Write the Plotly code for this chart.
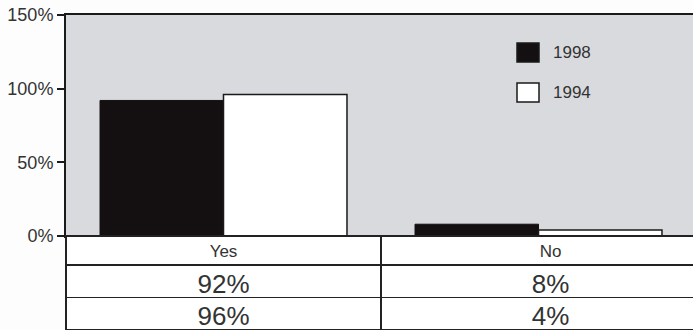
import plotly.graph_objects as go

categories = ["Yes", "No"]
series_names = ["1998", "1994"]
values_1998 = [92, 8]
values_1994 = [96, 4]
y_ticks = [0, 50, 100, 150]
y_tick_labels = ["0%", "50%", "100%", "150%"]

FONT = "Liberation Sans, Arial, sans-serif"
TXT = "#333333"
W, H = 720, 330          # wider than the window so the right frame is cut off, as in the scan
ML, MT = 66, 15
CAT_PX = 315
plot_bottom_px = 236
pw, ph = W - ML, H - MT
y_dom0 = (H - plot_bottom_px) / ph

fig = go.Figure()
fig.add_trace(go.Bar(x=categories, y=values_1998, name=series_names[0],
                     marker=dict(color="#141012", line=dict(color="#141012", width=1)),
                     showlegend=False))
fig.add_trace(go.Bar(x=categories, y=values_1994, name=series_names[1],
                     marker=dict(color="white", line=dict(color="#1a1a1a", width=1.5)),
                     showlegend=False))

# table under the plot
fig.add_trace(go.Table(
    domain=dict(x=[0, 1], y=[0, y_dom0]),
    columnwidth=[CAT_PX, pw - CAT_PX],
    header=dict(values=categories, height=29, align="center",
                fill=dict(color="white"), line=dict(color="#222222", width=1.5),
                font=dict(family=FONT, size=17, color=TXT)),
    cells=dict(values=[[f"{values_1998[i]}%", f"{values_1994[i]}%"] for i in range(len(categories))],
               height=32.5, align="center",
               fill=dict(color="white"), line=dict(color="#222222", width=1.5),
               font=dict(family=FONT, size=26, color=TXT)),
))

# legend drawn as swatches + labels
legend_items = [(series_names[0], "#141012"), (series_names[1], "white")]
sq_top_px = [43, 83]
shapes = []
annotations = []
for (name, col), top in zip(legend_items, sq_top_px):
    x0 = (517 - ML) / pw
    x1 = (539 - ML) / pw
    y1 = (H - top) / ph
    y0 = (H - top - 19) / ph
    shapes.append(dict(type="rect", xref="paper", yref="paper", x0=x0, x1=x1, y0=y0, y1=y1,
                       fillcolor=col, line=dict(color="#1a1a1a", width=1.5)))
    annotations.append(dict(xref="paper", yref="paper", x=(551 - ML) / pw, y=(y0 + y1) / 2,
                            text=name, showarrow=False, xanchor="left", yanchor="middle",
                            font=dict(family=FONT, size=17, color=TXT)))

fig.update_layout(
    width=W, height=H,
    margin=dict(l=ML, r=0, t=MT, b=0, autoexpand=False),
    paper_bgcolor="#fdfdfd",
    plot_bgcolor="#d9dade",
    barmode="group", bargap=0.216, bargroupgap=0,
    shapes=shapes, annotations=annotations,
    xaxis=dict(range=[-0.5, -0.5 + pw / CAT_PX], showticklabels=False, ticks="",
               showline=True, mirror=True, linecolor="#1a1a1a", linewidth=2,
               showgrid=False, zeroline=False, fixedrange=True, automargin=False),
    yaxis=dict(domain=[y_dom0, 1], range=[0, 150], tickvals=y_ticks, ticktext=y_tick_labels,
               ticks="outside", ticklen=7, tickwidth=2, tickcolor="#1a1a1a",
               showline=True, linecolor="#1a1a1a", linewidth=2,
               showgrid=False, zeroline=False, automargin=False,
               tickfont=dict(family=FONT, size=18, color=TXT)),
    showlegend=False,
)

fig.write_html("out.html", config={"displayModeBar": False},
               post_script="document.body.style.margin='0';document.body.style.overflow='hidden';"
                           "document.body.style.background='#fdfdfd';")
